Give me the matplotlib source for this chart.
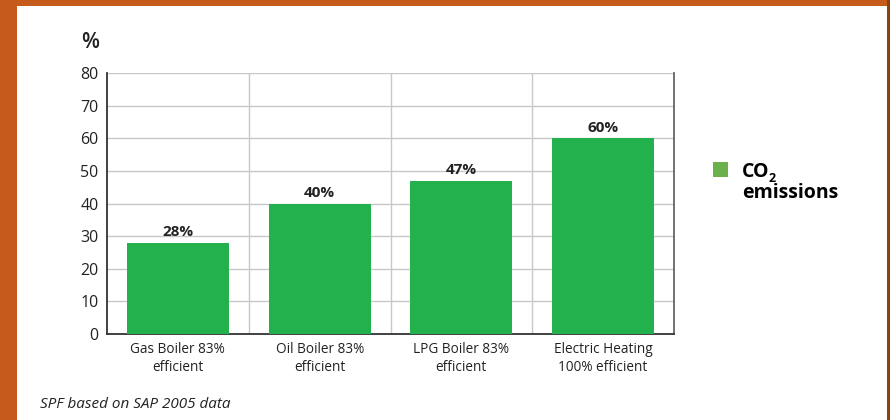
import matplotlib.pyplot as plt
from matplotlib.patches import Rectangle
import numpy as np

# Данные
categories = ["Gas Boiler 83%\nefficient", "Oil Boiler 83%\nefficient",
              "LPG Boiler 83%\nefficient", "Electric Heating\n100% efficient"]
values = [28, 40, 47, 60]
value_labels = ["28%", "40%", "47%", "60%"]
yticks = [0, 10, 20, 30, 40, 50, 60, 70, 80]

plt.rcParams['font.family'] = ['Open Sans', 'DejaVu Sans']

W, H = 890, 420
fig = plt.figure(figsize=(W / 100, H / 100), dpi=100)

# Рамка
fig.patches.append(Rectangle((0, 0), 1, 1, transform=fig.transFigure,
                             facecolor='#C65A1B', edgecolor='none', zorder=-3))
fig.patches.append(Rectangle((887 / W, 0), 3 / W, 1, transform=fig.transFigure,
                             facecolor='#8E3F14', edgecolor='none', zorder=-2))
fig.patches.append(Rectangle((17 / W, 0), (887 - 17) / W, (H - 6) / H,
                             transform=fig.transFigure,
                             facecolor='white', edgecolor='none', zorder=-1))

ax = fig.add_axes([107 / W, 1 - 334 / H, (674 - 107) / W, (334 - 73) / H])
ax.set_facecolor('none')

x = np.arange(len(categories))
ax.bar(x, values, width=0.72, color='#23B14D', zorder=3)
for xi, v, lab in zip(x, values, value_labels):
    ax.text(xi, v + 1.1, lab, ha='center', va='bottom', fontsize=11,
            fontweight='bold', color='#222222', zorder=4)

ax.set_xlim(-0.5, len(categories) - 0.5)
ax.set_ylim(0, 80)
ax.set_yticks(yticks)
ax.set_xticks(x, categories)
ax.tick_params(axis='both', length=0, colors='#222222')
ax.tick_params(axis='y', pad=6, labelsize=11.5)
ax.tick_params(axis='x', pad=6, labelsize=9.8)

# Сетка
for yv in yticks[1:]:
    ax.axhline(yv, color='#C8C8C8', lw=1.0, zorder=1)
for xb in np.arange(0.5, len(categories) - 1, 1.0):
    ax.axvline(xb, color='#C8C8C8', lw=1.0, zorder=1)

ax.spines['top'].set_visible(False)
ax.spines['left'].set_color('#333333')
ax.spines['bottom'].set_color('#333333')
ax.spines['right'].set_color('#666666')
for s in ['left', 'bottom', 'right']:
    ax.spines[s].set_linewidth(1.3)

# Подписи
fig.text(90 / W, 1 - 43 / H, "%", fontsize=15, fontweight='semibold',
         color='#222222', ha='center', va='center')
fig.text(40 / W, 1 - 404 / H, "SPF based on SAP 2005 data", fontsize=11,
         style='italic', color='#222222', ha='left', va='center')

# Легенда
fig.patches.append(Rectangle((713 / W, 1 - 177 / H), 15 / W, 15 / H,
                             transform=fig.transFigure,
                             facecolor='#6AB04C', edgecolor='none'))
co = fig.text(742 / W, 1 - 177 / H, "CO", fontsize=14, fontweight='bold',
              color='black', ha='left', va='baseline')
fig.text(742 / W, 1 - 198 / H, "emissions", fontsize=14, fontweight='bold',
         color='black', ha='left', va='baseline')
fig.canvas.draw()
bb = co.get_window_extent()
fig.text((bb.x1 - 1) / W, (1 - 182 / H), "2", fontsize=9, fontweight='bold',
         color='black', ha='left', va='baseline')

fig.savefig('out.png', dpi=100)
